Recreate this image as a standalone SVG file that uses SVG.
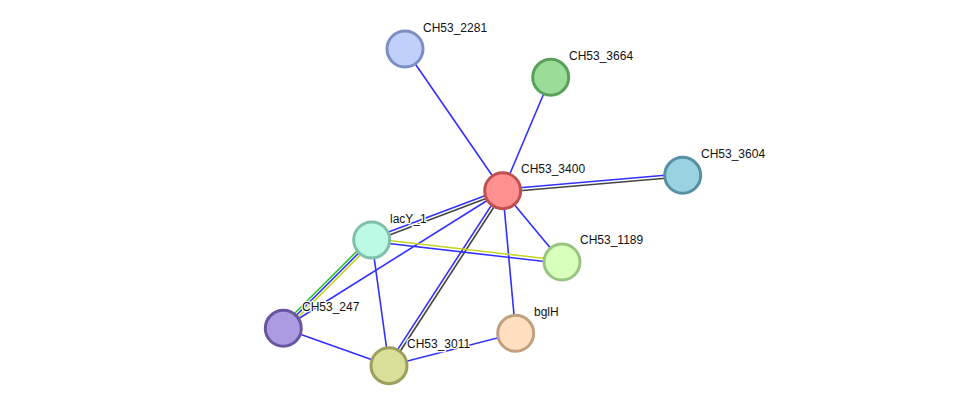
<svg xmlns="http://www.w3.org/2000/svg" width="976" height="411" viewBox="0 0 976 411">
<style>
.e{stroke-width:1.6;fill:none}
.b{stroke:#3030ff}
.g{stroke:#444444}
.y{stroke:#c4d424}
.gr{stroke:#30c030}
.n{stroke-width:3}
text{font-family:"Liberation Sans",Arial,sans-serif;font-size:12px;fill:#111;stroke:#fff;stroke-width:2.5;paint-order:stroke;stroke-linejoin:round}
</style>
<rect width="976" height="411" fill="#fff"/>
<g id="edges">
<line class="e b" x1="502.7" y1="190.7" x2="405" y2="49"/>
<line class="e b" x1="502.7" y1="190.7" x2="550.7" y2="77.3"/>
<line class="e b" x1="502.9" y1="189.2" x2="682.6" y2="173.8"/>
<line class="e g" x1="503.1" y1="192.2" x2="682.8" y2="176.8"/>
<line class="e b" x1="371.2" y1="238.6" x2="502.2" y2="189.3"/>
<line class="e g" x1="372.2" y1="241.4" x2="503.2" y2="192.1"/>
<line class="e b" x1="501.4" y1="189.9" x2="387.7" y2="364.9"/>
<line class="e g" x1="504" y1="191.5" x2="390.3" y2="366.5"/>
<line class="e b" x1="502.7" y1="190.7" x2="283.3" y2="328.3"/>
<line class="e b" x1="502.7" y1="190.7" x2="515.7" y2="333.3"/>
<line class="e b" x1="502.7" y1="190.7" x2="562" y2="262"/>
<line class="e y" x1="371.9" y1="238.5" x2="562.2" y2="260.5"/>
<line class="e b" x1="371.5" y1="241.5" x2="561.8" y2="263.5"/>
<line class="e gr" x1="369.9" y1="238.2" x2="281.5" y2="326.5"/>
<line class="e b" x1="371.7" y1="240" x2="283.3" y2="328.3"/>
<line class="e y" x1="373.5" y1="241.8" x2="285.1" y2="330.1"/>
<line class="e b" x1="371.7" y1="240" x2="389" y2="365.7"/>
<line class="e b" x1="283.3" y1="328.3" x2="389" y2="365.7"/>
<line class="e b" x1="389" y1="365.7" x2="515.7" y2="333.3"/>
</g>
<g id="CH53_2281"><circle class="n" cx="405" cy="49" r="18" fill="#c0d0fa" stroke="#7b8fc0"/><text x="423" y="32">CH53_2281</text></g>
<g id="CH53_3664"><circle class="n" cx="550.7" cy="77.3" r="18" fill="#99dd99" stroke="#5a9f5a"/><text x="569" y="60">CH53_3664</text></g>
<g id="CH53_3604"><circle class="n" cx="682.7" cy="175.3" r="18" fill="#99d2e0" stroke="#5890a3"/><text x="701" y="158">CH53_3604</text></g>
<g id="CH53_3400"><circle class="n" cx="502.7" cy="190.7" r="18" fill="#ff9090" stroke="#c05050"/><text x="521" y="173">CH53_3400</text></g>
<g id="lacY_1"><circle class="n" cx="371.7" cy="240" r="18" fill="#bcfae6" stroke="#80bfa9"/><text x="390" y="223">lacY_1</text></g>
<g id="CH53_1189"><circle class="n" cx="562" cy="262" r="18" fill="#d9ffbd" stroke="#99c480"/><text x="580" y="244">CH53_1189</text></g>
<g id="CH53_247"><circle class="n" cx="283.3" cy="328.3" r="18" fill="#ac9be0" stroke="#6a56a0"/><text x="302" y="311">CH53_247</text></g>
<g id="bglH"><circle class="n" cx="515.7" cy="333.3" r="18" fill="#ffdfc0" stroke="#c0a07e"/><text x="534" y="316">bglH</text></g>
<g id="CH53_3011"><circle class="n" cx="389" cy="365.7" r="18" fill="#dadf9a" stroke="#9da05a"/><text x="407" y="348">CH53_3011</text></g>
</svg>
